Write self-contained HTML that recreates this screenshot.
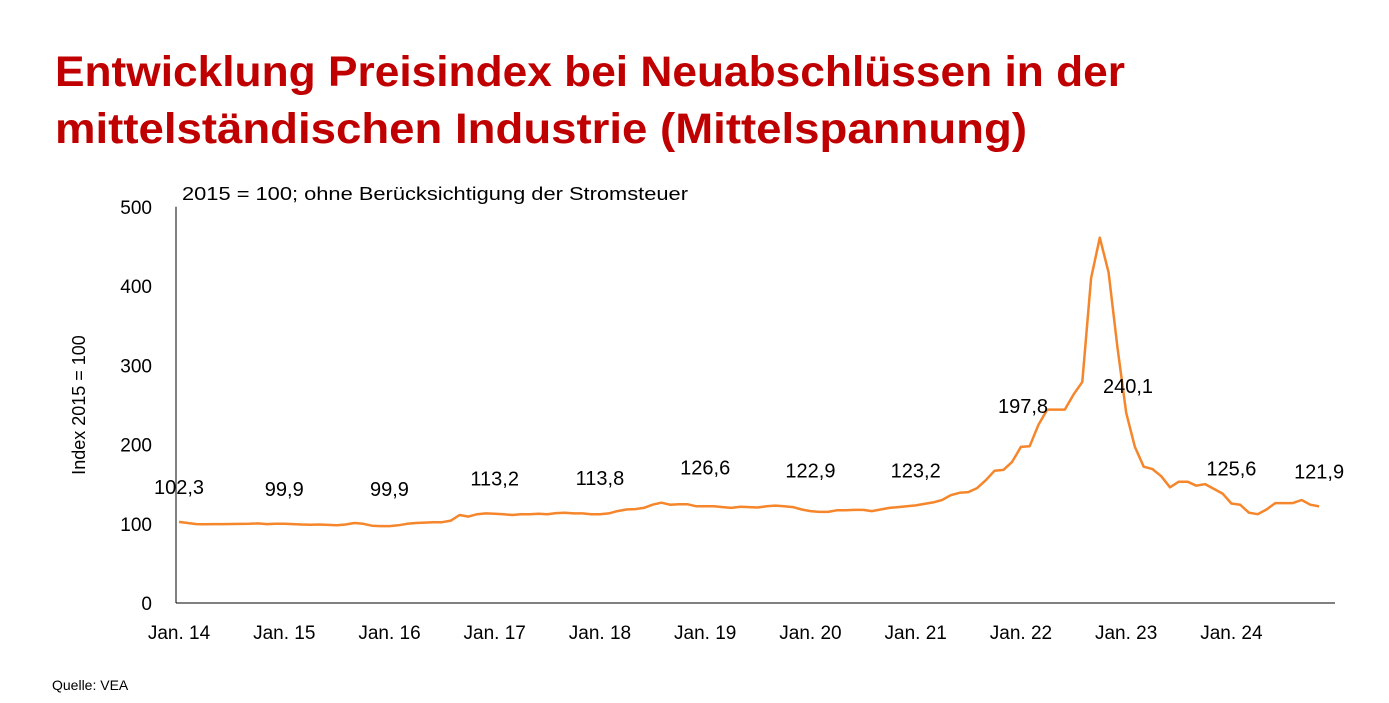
<!DOCTYPE html>
<html><head><meta charset="utf-8"><style>
html,body{margin:0;padding:0;background:#fff;}
svg{display:block;font-family:"Liberation Sans",sans-serif;}
</style></head><body>
<svg id="chart" width="1389" height="703" viewBox="0 0 1389 703">
<text x="55" y="86" font-size="43" font-weight="bold" fill="#c00000" textLength="1070" lengthAdjust="spacingAndGlyphs">Entwicklung Preisindex bei Neuabschlüssen in der</text>
<text x="55" y="143" font-size="43" font-weight="bold" fill="#c00000" textLength="972" lengthAdjust="spacingAndGlyphs">mittelständischen Industrie (Mittelspannung)</text>
<text x="182" y="200" font-size="18" fill="#000" textLength="506" lengthAdjust="spacingAndGlyphs">2015 = 100; ohne Berücksichtigung der Stromsteuer</text>
<text transform="translate(85,405) rotate(-90)" text-anchor="middle" font-size="18" fill="#000">Index 2015 = 100</text>
<text x="52" y="690" font-size="14" fill="#000">Quelle: VEA</text>
<g id="axes"></g>
<g id="marks"></g>
</svg>
<script>
const yTicks=[0,100,200,300,400,500];
const xLabels=["Jan. 14","Jan. 15","Jan. 16","Jan. 17","Jan. 18","Jan. 19","Jan. 20","Jan. 21","Jan. 22","Jan. 23","Jan. 24"];
const values=[
102.3,101,99.5,99.3,99.5,99.6,99.7,99.8,100,100.5,99.5,100,
99.9,99.5,99,98.8,99,98.5,98,99,101,100,97.5,97,
97,98,100,101,101.5,102,102,104,111,109,112,113,
112.5,112,111,112,112,112.5,112,113.5,113.8,113,113,112,
112,113,116,118,118.5,120,124,126.6,124,124.5,124.6,122,
122,122,121,120,121.5,121,120.5,122,122.9,122,121,118,
116,115,115,117,117,117.5,117.5,116,118,120,121,122,
123.2,125,127,130,136,139,140,145,155,167,168,178,
197,197.8,225,244,244,244,263,279,410,461,417,323,
240,197,172,169,160,146,153,153,148,150,144,138,
125.6,124,114,112,118,126,126,126,130,124,121.9];
const annIdx=[0,12,24,36,48,60,72,84,97,108,120,130];
const annText=["102,3","99,9","99,9","113,2","113,8","126,6","122,9","123,2","197,8","240,1","125,6","121,9"];
const annVal=[102.3,99.9,99.9,113.2,113.8,126.6,122.9,123.2,197.8,240.1,125.6,121.9];
const NS="http://www.w3.org/2000/svg";
const x0=179,dx=8.77,yBase=603,yScale=0.7925;
function X(i){return x0+i*dx;}
function Y(v){return yBase-v*yScale;}
const axes=document.getElementById('axes'),marks=document.getElementById('marks');
function mk(tag,attrs,parent){const e=document.createElementNS(NS,tag);for(const k in attrs)e.setAttribute(k,attrs[k]);parent.appendChild(e);return e;}
const ya=mk('line',{x1:176,y1:Y(500),x2:176,y2:603,stroke:'#000','stroke-width':1},axes);


const xa=mk('line',{x1:176,y1:603,x2:1335,y2:603,stroke:'#000','stroke-width':1},axes);


yTicks.forEach(v=>{
 const t=mk('text',{x:152,y:Y(v)+7,'text-anchor':'end','font-size':19,fill:'#000'},axes);
 t.textContent=v;
 
 
});
xLabels.forEach((l,k)=>{
 const t=mk('text',{x:X(k*12),y:639,'text-anchor':'middle','font-size':19,fill:'#000'},axes);
 t.textContent=l;
 
 
});
const p=mk('polyline',{points:values.map((v,i)=>X(i).toFixed(1)+','+Y(v).toFixed(1)).join(' '),fill:'none',stroke:'#f5862b','stroke-width':2.5,'stroke-linejoin':'round'},marks);


annIdx.forEach((i,k)=>{
 const off=(k===8)?33:28;
 let y=Y(annVal[k])-off;
 if(k===9) y=393;
 let x=X(i);
 if(k===9) x=1128;
 if(k===8) x=1023;
 const t=mk('text',{x:x,y:y,'text-anchor':'middle','font-size':20,fill:'#000'},marks);
 t.textContent=annText[k];
 
 
});
</script>
</body></html>
